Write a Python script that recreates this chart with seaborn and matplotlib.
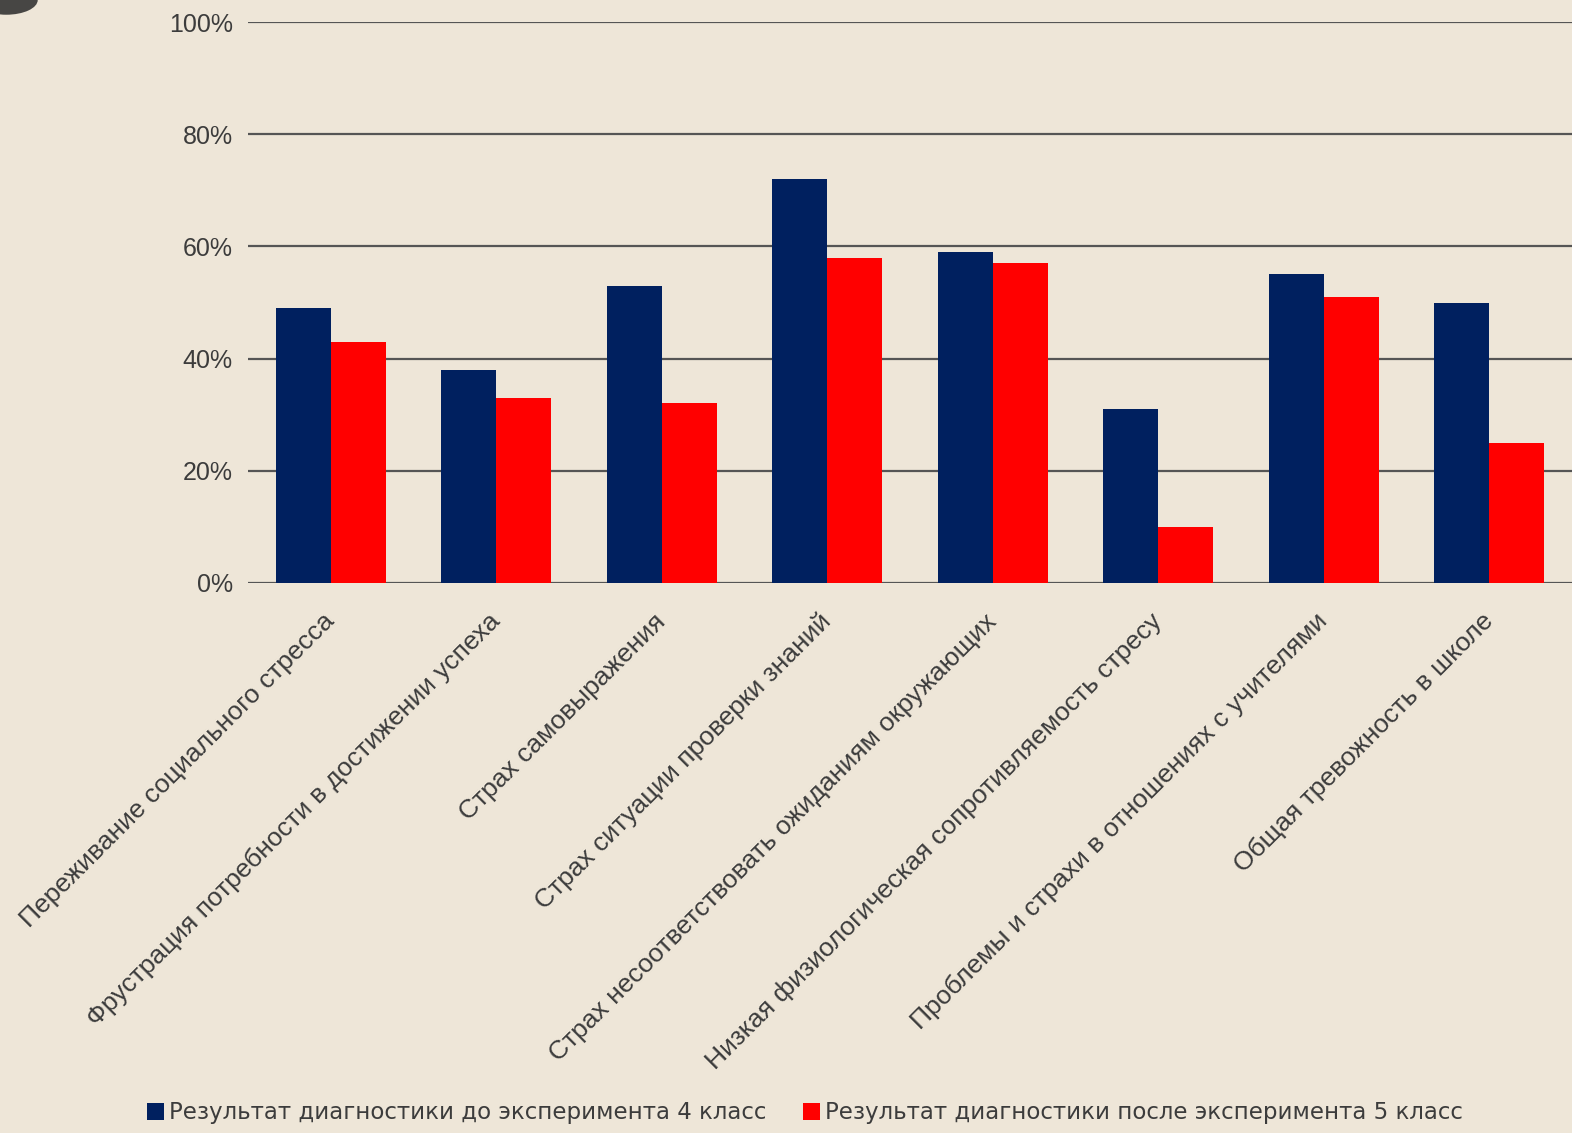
import numpy as np
import pandas as pd
import seaborn as sns
import matplotlib.pyplot as plt
from matplotlib.patches import Ellipse

categories = [
    "Переживание социального стресса",
    "Фрустрация потребности в достижении успеха",
    "Страх самовыражения",
    "Страх ситуации проверки знаний",
    "Страх несоответствовать ожиданиям окружающих",
    "Низкая физиологическая сопротивляемость стресу",
    "Проблемы и страхи в отношениях с учителями",
    "Общая тревожность в школе",
]
before_4 = [49, 38, 53, 72, 59, 31, 55, 50]
after_5 = [43, 33, 32, 58, 57, 10, 51, 25]
series_names = [
    "Результат диагностики до эксперимента 4 класс",
    "Результат диагностики после эксперимента 5 класс",
]
y_ticks = [0, 20, 40, 60, 80, 100]

bg = "#EEE6D8"
text_col = "#3c3c3c"

df = pd.DataFrame({
    "category": categories * 2,
    "value": before_4 + after_5,
    "series": [series_names[0]] * len(categories) + [series_names[1]] * len(categories),
})

sns.set_theme(style="white")
plt.rcParams["font.family"] = ["Liberation Sans", "DejaVu Sans"]

fig = plt.figure(figsize=(15.72, 11.33), dpi=100, facecolor=bg)
ax = fig.add_axes([248 / 1572, 1 - 583 / 1133, 1 - 248 / 1572, (583 - 22) / 1133])
ax.set_facecolor(bg)

sns.barplot(data=df, x="category", y="value", hue="series", order=categories,
            hue_order=series_names, palette=["#00205F", "#FF0000"],
            width=0.667, linewidth=0, saturation=1, ax=ax)

ax.set_xlim(-0.5, 7.5)
ax.set_ylim(0, 100)
ax.set_yticks(y_ticks)
ax.set_yticklabels([f"{t}%" for t in y_ticks], color=text_col, fontsize=18)
for t in y_ticks:
    ax.axhline(t, color="#555555", lw=1.6, zorder=0.5)
for s in ax.spines.values():
    s.set_visible(False)
ax.tick_params(axis="y", length=0, pad=11)
ax.tick_params(axis="x", length=0, pad=25)
ax.set_xticks(range(len(categories)))
ax.set_xticklabels(categories, rotation=45, ha="right", va="center",
                   rotation_mode="anchor", color=text_col, fontsize=19)
ax.set_xlabel("")
ax.set_ylabel("")

handles, labels = ax.get_legend_handles_labels()
ax.get_legend().remove()
fig.legend(handles, labels, loc="center", bbox_to_anchor=(805 / 1572, 1 - 1113 / 1133),
           ncol=2, frameon=False, labelcolor=text_col,
           prop={"family": "DejaVu Sans", "size": 16.5},
           handlelength=0.75, handleheight=0.75, handletextpad=0.2, columnspacing=1.6)

# dark round decoration in the top-left corner
fig.patches.append(Ellipse((0.004, 1.0), 0.04, 0.026, transform=fig.transFigure,
                           facecolor="#2a2a2a", edgecolor="none", alpha=0.85))

fig.savefig("out.png", dpi=100, facecolor=bg)
